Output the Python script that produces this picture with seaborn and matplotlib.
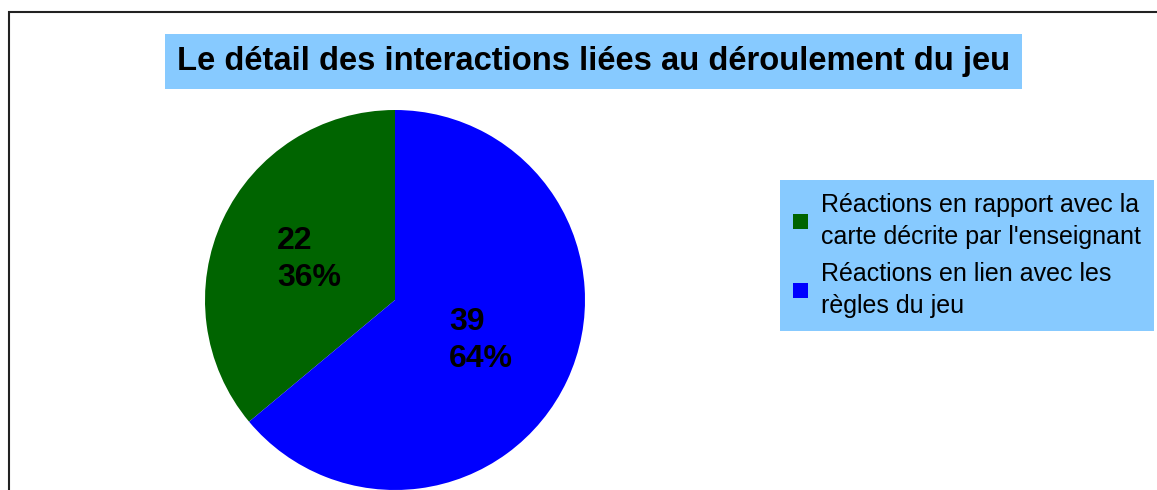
import matplotlib
matplotlib.use("Agg")
import matplotlib.pyplot as plt
from matplotlib.patches import Rectangle
import seaborn as sns

# data
categories = ["Réactions en rapport avec la\ncarte décrite par l'enseignant",
              "Réactions en lien avec les\nrègles du jeu"]
counts = [22, 39]
colors = ["#006400", "#0000FF"]
title = "Le détail des interactions liées au déroulement du jeu"
box_color = "#87CAFF"

sns.set_theme(style="white")
plt.rcParams['font.family'] = ['Liberation Sans', 'DejaVu Sans']
plt.rcParams['text.color'] = 'black'

W, H = 1157, 490
fig = plt.figure(figsize=(W / 100, H / 100), dpi=100)
fig.patch.set_facecolor("white")

# outer frame (only top and left visible in the crop)
fig.patches.append(Rectangle((9 / W, -0.2), 1.2, 1.2 - 12 / H,
                             transform=fig.transFigure, fill=False,
                             edgecolor="#222222", linewidth=1.5, zorder=0))

ax = fig.add_axes([(395 - 190) / W, 0, 380 / W, 380 / H])
total = sum(counts)


def fmt(pct):
    n = int(round(pct * total / 100))
    return f"{n}\n{pct:.0f}%"


wedges, texts = ax.pie(counts, colors=colors, startangle=90, counterclock=True,
                       autopct=fmt, pctdistance=0.5,
                       wedgeprops=dict(linewidth=0),
                       textprops=dict(fontsize=23, fontweight="bold", color="black",
                                      multialignment="left", linespacing=1.3))[:2]
ax.set_aspect("equal")
ax.set_xlim(-1, 1)
ax.set_ylim(-1, 1)

fig.text(593.5 / W, 1 - 61.5 / H, title, ha="center", va="center",
         fontsize=23.6, fontweight="bold", color="black",
         bbox=dict(boxstyle="square,pad=0.36", facecolor=box_color, edgecolor="none"))

leg = fig.legend(wedges, categories, loc="upper left",
                 bbox_to_anchor=(780 / W, 1 - 180 / H), borderaxespad=0,
                 fontsize=18, frameon=True, fancybox=False,
                 handlelength=0.6, handleheight=0.6, handletextpad=0.55,
                 labelspacing=0.5, borderpad=0.5)
for t in leg.get_texts():
    t.set_color("black")
    t.set_linespacing(1.45)
frame = leg.get_frame()
frame.set_facecolor(box_color)
frame.set_edgecolor("none")
frame.set_alpha(1)

fig.savefig("out.png", dpi=100)
